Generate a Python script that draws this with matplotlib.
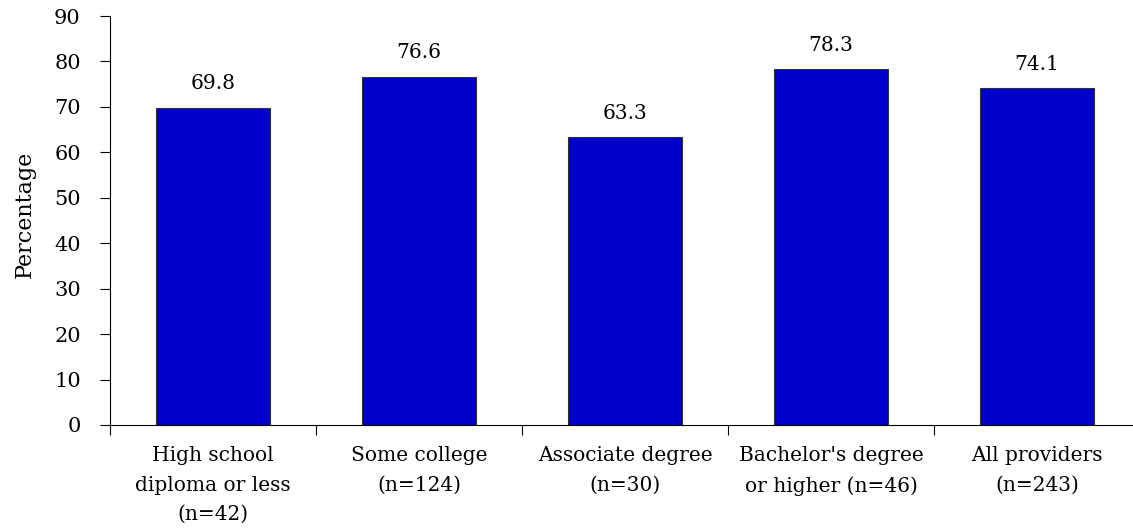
import matplotlib

matplotlib.use("Agg")
from matplotlib import pyplot as plt

categories = [
    "High school\ndiploma or less\n(n=42)",
    "Some college\n(n=124)",
    "Associate degree\n(n=30)",
    "Bachelor's degree\nor higher (n=46)",
    "All providers\n(n=243)",
]
percentages = [69.8, 76.6, 63.3, 78.3, 74.1]
y_ticks = [0, 10, 20, 30, 40, 50, 60, 70, 80, 90]

plt.rcParams["font.family"] = ["DejaVu Serif"]

fig = plt.figure(figsize=(11.33, 5.29), dpi=100)
# plot area runs a little past the right edge, like the original layout
axis = fig.add_axes([110 / 1133, 104 / 529, 1030 / 1133, 409 / 529])

positions = list(range(len(categories)))
bars = axis.bar(positions, percentages, width=0.555, color="#0000cc", edgecolor="#333333", linewidth=0.8)
for bar, value in zip(bars, percentages):
    axis.text(bar.get_x() + bar.get_width() / 2, value + 3.2, f"{value:.1f}",
              ha="center", va="bottom", fontsize=14.5)

axis.set_xlim(-0.5, len(categories) - 0.5)
axis.set_ylim(0, 90)
axis.set_yticks(y_ticks)
axis.tick_params(axis="y", direction="out", length=7, width=0.8, labelsize=15, pad=14)

axis.set_xticks([p - 0.5 for p in positions] + [len(categories) - 0.5])
axis.set_xticklabels([])
axis.tick_params(axis="x", direction="out", length=7, width=0.8)
for p, label in zip(positions, categories):
    axis.text(p, -0.052, label, transform=axis.get_xaxis_transform(), ha="center", va="top",
              fontsize=14.5, linespacing=1.7)

fig.text(25 / 1133, 1 - 214 / 529, "Percentage", rotation=90, ha="center", va="center", fontsize=16)
for side in ("top", "right"):
    axis.spines[side].set_visible(False)
for side in ("left", "bottom"):
    axis.spines[side].set_linewidth(0.8)

fig.savefig("out.png", dpi=100)
